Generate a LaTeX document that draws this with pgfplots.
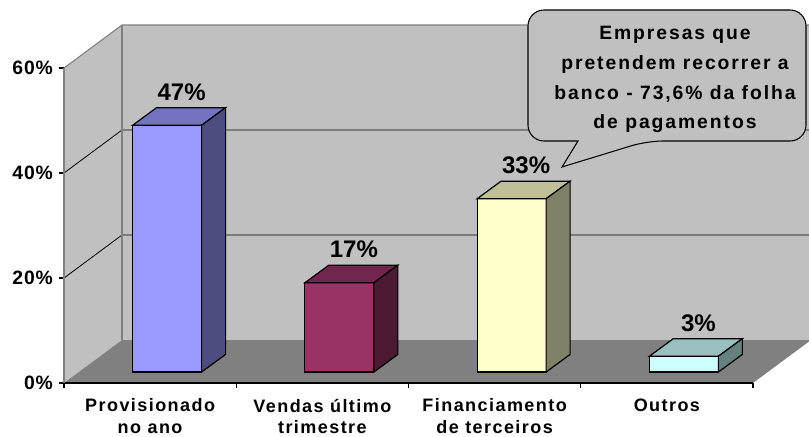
\documentclass[border=0pt]{standalone}
\usepackage{pgfplots}
\pgfplotsset{compat=1.18}
\usepackage{pgfplotstable}
\usepackage{fontspec}
\setmainfont{Liberation Sans}
\newfontfamily\catfont[LetterSpace=8]{Liberation Sans}
\newfontfamily\callfont[LetterSpace=10]{Liberation Sans}
\newfontfamily\tickfont[LetterSpace=4]{Liberation Sans}

\definecolor{wall}{HTML}{C0C0C0}
\definecolor{floorc}{HTML}{808080}
\definecolor{edge}{HTML}{808080}
\definecolor{f1}{HTML}{9999FF}\definecolor{t1}{HTML}{7373BF}\definecolor{s1}{HTML}{4D4D80}
\definecolor{f2}{HTML}{993366}\definecolor{t2}{HTML}{73264D}\definecolor{s2}{HTML}{4D1A33}
\definecolor{f3}{HTML}{FFFFCC}\definecolor{t3}{HTML}{BFBF99}\definecolor{s3}{HTML}{808066}
\definecolor{f4}{HTML}{CCFFFF}\definecolor{t4}{HTML}{99BFBF}\definecolor{s4}{HTML}{668080}

\newdimen\barH
\newdimen\barHb
\pgfkeys{/bar3d/top/.initial=gray,/bar3d/side/.initial=gray}
\pgfdeclareplotmark{bar3d}{%
  \pgfkeys{/pgf/fpu=true}%
  \pgfmathparse{\hv}%
  \pgfmathfloattofixed{\pgfmathresult}%
  \let\hvv\pgfmathresult
  \pgfkeys{/pgf/fpu=false}%
  \barH=\hvv pt
  \barH=3.9375\barH
  \barHb=13.2pt
  \advance\barHb by -\barH
  \pgfkeysgetvalue{/bar3d/top}{\bartopcol}%
  \pgfkeysgetvalue{/bar3d/side}{\barsidecol}%
  \pgfsetfillcolor{\bartopcol}%
  \pgfpathmoveto{\pgfqpoint{-25.875pt}{0pt}}%
  \pgfpathlineto{\pgfqpoint{25.875pt}{0pt}}%
  \pgfpathlineto{\pgfqpoint{43.875pt}{13.2pt}}%
  \pgfpathlineto{\pgfqpoint{-7.875pt}{13.2pt}}%
  \pgfpathclose
  \pgfusepathqfillstroke
  \pgfsetfillcolor{\barsidecol}%
  \pgfpathmoveto{\pgfqpoint{25.875pt}{0pt}}%
  \pgfpathlineto{\pgfqpoint{43.875pt}{13.2pt}}%
  \pgfpathlineto{\pgfqpoint{43.875pt}{\barHb}}%
  \pgfpathlineto{\pgfqpoint{25.875pt}{-\barH}}%
  \pgfpathclose
  \pgfusepathqfillstroke
}

\pgfplotstableread{
x v
0.5 47
1.5 17
2.5 33
3.5 3
}\bardata

\pgfplotsset{
  frontbar/.style={ybar, bar width=51.75pt, bar shift=0pt, draw=black, line width=0.9pt,
    nodes near coords={\pgfmathprintnumber[assume math mode=true]{\pgfplotspointmeta}\%},
    nodes near coords style={font=\bfseries\fontsize{18}{20}\selectfont, anchor=base, inner sep=0pt,
      xshift=10.9pt, yshift=18.75pt, text=black}},
  sidebar/.style={only marks, mark=bar3d, line width=0.9pt,
    visualization depends on={\thisrow{v} \as \hv}},
}

\begin{document}
\begin{tikzpicture}
\begin{axis}[
  at={(48pt,39.75pt)}, anchor=south west,
  scale only axis, width=516.75pt, height=236.25pt,
  xmin=0, xmax=4, ymin=0, ymax=60, clip=false,
  axis on top,
  axis x line*=bottom, axis y line*=left,
  x axis line style={black, line width=0.8pt},
  y axis line style={edge, line width=0.8pt},
  tick align=outside, major tick length=3.75pt,
  ytick={0,20,40,60}, yticklabels={0\%,20\%,40\%,60\%},
  ytick style={black, line width=0.8pt},
  yticklabel style={font=\tickfont\bfseries\fontsize{14.5}{16}\selectfont, inner sep=0pt, anchor=east, xshift=-4.5pt},
  xtick={0.5,1.5,2.5,3.5},
  xticklabels={{Provisionado\\no ano},{Vendas último\\trimestre},{Financiamento\\de terceiros},{Outros}},
  major x tick style=transparent,
  xticklabel style={font=\catfont\bfseries\fontsize{13.5}{15.8}\selectfont, align=center, inner sep=0pt, anchor=north, yshift=-8pt},
]
% walls and floor
\fill[wall] (axis cs:0,0) -- (axis cs:0.3367,8.19) -- (axis cs:0.3367,68.19) -- (axis cs:0,60) -- cycle;
\fill[wall] (axis cs:0.3367,8.19) rectangle (axis cs:4.3367,68.19);
\fill[floorc] (axis cs:0,0) -- (axis cs:4,0) -- (axis cs:4.3367,8.19) -- (axis cs:0.3367,8.19) -- cycle;
\draw[black, line width=0.6pt] (axis cs:0,20) -- (axis cs:0.3367,28.19) -- (axis cs:4.3367,28.19);
\draw[black, line width=0.6pt] (axis cs:0,40) -- (axis cs:0.3367,48.19) -- (axis cs:4.3367,48.19);
\draw[edge, line width=0.8pt] (axis cs:0,60) -- (axis cs:0.3367,68.19) -- (axis cs:4.3367,68.19);
\draw[edge, line width=0.8pt] (axis cs:0.3367,8.19) -- (axis cs:0.3367,68.19);
\draw[black, line width=0.8pt] (axis cs:0,0) -- ++(0pt,-3.75pt);
\draw[black, line width=0.8pt] (axis cs:1,0) -- ++(0pt,-3.75pt);
\draw[black, line width=0.8pt] (axis cs:2,0) -- ++(0pt,-3.75pt);
\draw[black, line width=0.8pt] (axis cs:3,0) -- ++(0pt,-3.75pt);
\draw[black, line width=0.8pt] (axis cs:4,0) -- ++(0pt,-3.75pt);
\end{axis}

\begin{axis}[
  at={(60.75pt,48pt)}, anchor=south west,
  scale only axis, width=516.75pt, height=236.25pt,
  xmin=0, xmax=4, ymin=0, ymax=60, clip=false, hide axis,
]
\addplot[frontbar, fill=f1, restrict x to domain=0.4:0.6] table[x=x,y=v]{\bardata};
\addplot[sidebar, mark options={draw=black, /bar3d/top=t1, /bar3d/side=s1}, restrict x to domain=0.4:0.6] table[x=x,y=v]{\bardata};
\addplot[frontbar, fill=f2, restrict x to domain=1.4:1.6] table[x=x,y=v]{\bardata};
\addplot[sidebar, mark options={draw=black, /bar3d/top=t2, /bar3d/side=s2}, restrict x to domain=1.4:1.6] table[x=x,y=v]{\bardata};
\addplot[frontbar, fill=f3, restrict x to domain=2.4:2.6] table[x=x,y=v]{\bardata};
\addplot[sidebar, mark options={draw=black, /bar3d/top=t3, /bar3d/side=s3}, restrict x to domain=2.4:2.6] table[x=x,y=v]{\bardata};
\addplot[frontbar, fill=f4, restrict x to domain=3.4:3.6] table[x=x,y=v]{\bardata};
\addplot[sidebar, mark options={draw=black, /bar3d/top=t4, /bar3d/side=s4}, restrict x to domain=3.4:3.6] table[x=x,y=v]{\bardata};
\end{axis}

% callout
\draw[fill=wall, line width=0.8pt, rounded corners=12pt]
  (433.5pt,221.25pt) -- (396pt,221.25pt) -- (396pt,319.5pt) -- (604.5pt,319.5pt) -- (604.5pt,221.25pt) -- (485.25pt,221.25pt)
  [sharp corners] -- (421.5pt,201.75pt) -- cycle;
\begin{scope}[every node/.style={font=\callfont\bfseries\fontsize{14.5}{17}\selectfont, anchor=base, inner sep=0pt}]
\node at (506.25pt,297pt) {Empresas que};
\node at (506.25pt,274.8pt) {pretendem recorrer a};
\node at (506.25pt,252.6pt) {banco - 73,6\% da folha};
\node at (506.25pt,230.4pt) {de pagamentos};
\end{scope}

\pgfresetboundingbox
\useasboundingbox (0pt,0pt) rectangle (606.75pt,327pt);
\end{tikzpicture}
\end{document}
